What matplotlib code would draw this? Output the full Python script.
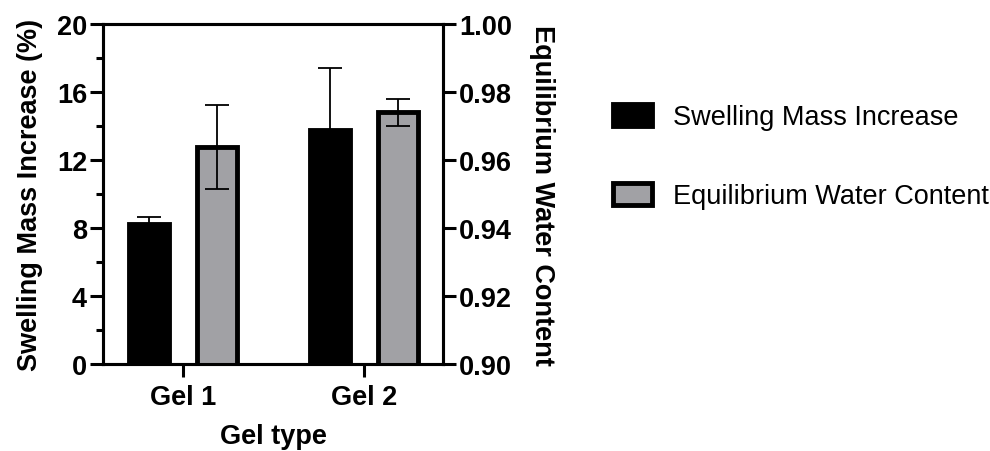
import matplotlib
matplotlib.use("Agg")
import matplotlib.pyplot as plt
from matplotlib.ticker import MultipleLocator, FixedLocator
from matplotlib.patches import Patch

plt.rcParams['font.family'] = ['Liberation Sans', 'DejaVu Sans']

categories = ["Gel 1", "Gel 2"]
swelling = [8.24, 13.76]
swelling_err = [0.39, 3.63]
ewc = [0.9638, 0.9740]
ewc_err = [0.0124, 0.0040]
left_ticks = [0, 4, 8, 12, 16, 20]
right_ticks = [0.90, 0.92, 0.94, 0.96, 0.98, 1.00]

BLACK = "#000000"
GREY = "#a1a1a5"

fig = plt.figure(figsize=(9.9, 4.52), dpi=100)
ax = fig.add_axes([103/990, 1-365/452, 340/990, 340/452])
ax2 = ax.twinx()

x = list(range(len(categories)))
off = 0.188
w = 0.222
lw_bar = 3.5
xb = [i - off for i in x]
xg = [i + off for i in x]

ax.bar(xb, swelling, width=w, color=BLACK, edgecolor=BLACK, linewidth=lw_bar, zorder=2)
ax.errorbar(xb, swelling, yerr=swelling_err, fmt='none', ecolor=BLACK,
            elinewidth=1.3, capsize=8.5, capthick=1.3, zorder=3)

ax2.bar(xg, ewc, width=w, color=GREY, edgecolor=BLACK, linewidth=lw_bar, zorder=2)
ax2.errorbar(xg, ewc, yerr=ewc_err, fmt='none', ecolor=BLACK,
             elinewidth=1.3, capsize=8.5, capthick=1.3, zorder=3)

ax.set_xlim(-0.442, 1.436)
ax.set_ylim(0, 20)
ax2.set_ylim(0.90, 1.00)

ax.set_xticks(x)
ax.set_xticklabels(categories)
ax.yaxis.set_major_locator(FixedLocator(left_ticks))
ax.yaxis.set_minor_locator(MultipleLocator(2))
ax2.yaxis.set_major_locator(FixedLocator(right_ticks))
ax2.set_yticklabels([f"{t:.2f}" for t in right_ticks])

for a in (ax, ax2):
    for s in a.spines.values():
        s.set_linewidth(2.2)
    a.tick_params(axis='both', which='major', length=9.5, width=2.2, labelsize=19.5, pad=2)
    a.tick_params(axis='both', which='minor', length=5, width=2.2)
    for lab in a.get_xticklabels() + a.get_yticklabels():
        lab.set_fontweight('bold')
ax.tick_params(axis='x', pad=5)

ax.set_ylabel("Swelling Mass Increase (%)", fontsize=19.5, fontweight='bold', labelpad=10)
ax.set_xlabel("Gel type", fontsize=19.5, fontweight='bold', labelpad=9)
ax2.set_ylabel("Equilibrium Water Content", fontsize=19.5, fontweight='bold',
               rotation=-90, labelpad=31)

handles = [Patch(facecolor=BLACK, edgecolor=BLACK, linewidth=lw_bar),
           Patch(facecolor=GREY, edgecolor=BLACK, linewidth=lw_bar)]
fig.legend(handles, ["Swelling Mass Increase", "Equilibrium Water Content"],
           loc='upper left', bbox_to_anchor=(613/990, 1-105/452), frameon=False,
           fontsize=19.5, handlelength=1.45, handleheight=0.85, handletextpad=0.75,
           labelspacing=1.95, borderpad=0, borderaxespad=0)

fig.savefig("out.png", dpi=100)
